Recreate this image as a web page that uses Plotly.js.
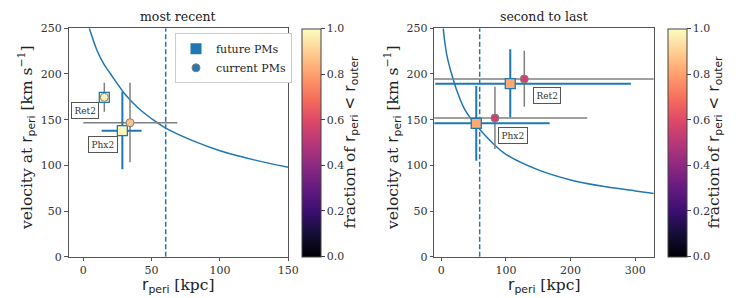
<!DOCTYPE html>
<html>
<head>
<meta charset="utf-8">
<script src="https://cdn.plot.ly/plotly-3.0.1.min.js"></script>
<style>html,body{margin:0;padding:0;background:#fff}#chart{width:743px;height:298px}</style>
</head>
<body>
<div id="chart"></div>
<script>
// ---- data ----
const panelTitles = ["most recent", "second to last"];
const satNames = ["Ret2", "Phx2"];

// escape-velocity-like curve
const curveLeftR = [4.4, 8, 10, 15, 20, 30, 40, 50, 60, 80, 100, 125, 150];
const curveLeftV = [250, 234, 226, 211, 200, 179, 163, 151, 141, 127, 116, 106, 98];
const curveRightR = [3.1, 6, 10, 16, 24, 35, 47, 60, 80, 100, 150, 200, 250, 300, 330];
const curveRightV = [250, 232, 216, 200, 182, 163, 150, 139, 124, 112, 95, 84, 77, 72, 69];

const rOuter = [60.3, 59.4];

// most recent: future PMs
const futLeftR = [15.4, 28.6];
const futLeftV = [174.5, 137.9];
const futLeftRminus = [1, 15.1];
const futLeftRplus = [1, 14.1];
const futLeftVminus = [1, 42.2];
const futLeftVplus = [1, 42.7];
const futLeftFrac = [0.99, 0.99];
// most recent: current PMs
const curLeftR = [15.4, 34.2];
const curLeftV = [174.5, 146.7];
const curLeftRminus = [1, 34.2];
const curLeftRplus = [1, 34.6];
const curLeftVminus = [15.8, 43.4];
const curLeftVplus = [16.0, 43.8];
const curLeftFrac = [0.97, 0.87];

// second to last: future PMs
const futRightR = [106.7, 54.1];
const futRightV = [189.4, 146.0];
const futRightRminus = [116, 70];
const futRightRplus = [186.6, 113.5];
const futRightVminus = [36.8, 40.9];
const futRightVplus = [37.6, 40.8];
const futRightFrac = [0.82, 0.82];
// second to last: current PMs
const curRightR = [128.4, 83.0];
const curRightV = [194.5, 151.8];
const curRightRminus = [150, 100];
const curRightRplus = [260, 142.8];
const curRightVminus = [30.3, 33.9];
const curRightVplus = [31.0, 34.2];
const curRightFrac = [0.56, 0.56];

const labelLeftR = [1.2, 14.4];
const labelLeftV = [159.5, 123.3];
const labelRightR = [163, 110.9];
const labelRightV = [176.7, 132.9];

const cbTicks = [0, 0.2, 0.4, 0.6, 0.8, 1.0];
const cbTickText = ["0.0", "0.2", "0.4", "0.6", "0.8", "1.0"];
const xTicksLeft = [0, 50, 100, 150];
const xTicksRight = [0, 100, 200, 300];
const yTicks = [0, 50, 100, 150, 200, 250];

// ---- style ----
const BLUE = "#1f77b4";
const GRAY = "#808080";
const SERIF = "DejaVu Serif";
const SANS = "DejaVu Sans";
const magma = [
  [0.0, "#000004"], [0.1, "#140e36"], [0.2, "#3b0f70"], [0.3, "#641a80"],
  [0.4, "#8c2981"], [0.5, "#b73779"], [0.6, "#de4968"], [0.7, "#f7705c"],
  [0.8, "#fe9f6d"], [0.9, "#fecf92"], [1.0, "#fcfdbf"]
];

function errTrace(xa, ya, x, y, xm, xp, ym, yp, color, th) {
  return {
    type: "scatter", mode: "markers", x: x, y: y, xaxis: xa, yaxis: ya,
    marker: {size: 1, opacity: 0}, showlegend: false, hoverinfo: "skip",
    error_x: {type: "data", symmetric: false, array: xp, arrayminus: xm, color: color, thickness: th, width: 0},
    error_y: {type: "data", symmetric: false, array: yp, arrayminus: ym, color: color, thickness: th, width: 0}
  };
}
function markTrace(xa, ya, x, y, c, ca, sym, size, lc, lw) {
  return {
    type: "scatter", mode: "markers", x: x, y: y, xaxis: xa, yaxis: ya,
    marker: {symbol: sym, size: size, color: c, coloraxis: ca, line: {color: lc, width: lw}},
    showlegend: false
  };
}

const traces = [
  {type: "scatter", mode: "lines", x: curveLeftR, y: curveLeftV, xaxis: "x", yaxis: "y",
   line: {color: BLUE, width: 1.5, shape: "spline"}, showlegend: false},
  {type: "scatter", mode: "lines", x: [rOuter[0], rOuter[0]], y: [0, 250], xaxis: "x", yaxis: "y",
   line: {color: BLUE, width: 1.5, dash: "5px,2.5px"}, showlegend: false},
  errTrace("x", "y", curLeftR, curLeftV, curLeftRminus, curLeftRplus, curLeftVminus, curLeftVplus, GRAY, 1.5),
  errTrace("x", "y", futLeftR, futLeftV, futLeftRminus, futLeftRplus, futLeftVminus, futLeftVplus, BLUE, 2),
  markTrace("x", "y", futLeftR, futLeftV, futLeftFrac, "coloraxis", "square", 10, BLUE, 1.3),
  markTrace("x", "y", curLeftR, curLeftV, curLeftFrac, "coloraxis", "circle", 8, GRAY, 1),

  {type: "scatter", mode: "lines", x: curveRightR, y: curveRightV, xaxis: "x2", yaxis: "y2",
   line: {color: BLUE, width: 1.5, shape: "spline"}, showlegend: false},
  {type: "scatter", mode: "lines", x: [rOuter[1], rOuter[1]], y: [0, 250], xaxis: "x2", yaxis: "y2",
   line: {color: BLUE, width: 1.5, dash: "5px,2.5px"}, showlegend: false},
  errTrace("x2", "y2", curRightR, curRightV, curRightRminus, curRightRplus, curRightVminus, curRightVplus, GRAY, 1.5),
  errTrace("x2", "y2", futRightR, futRightV, futRightRminus, futRightRplus, futRightVminus, futRightVplus, BLUE, 2),
  markTrace("x2", "y2", futRightR, futRightV, futRightFrac, "coloraxis2", "square", 10, BLUE, 1.3),
  markTrace("x2", "y2", curRightR, curRightV, curRightFrac, "coloraxis2", "circle", 8, GRAY, 1),

  // legend entries
  {type: "scatter", mode: "markers", x: [null], y: [null], xaxis: "x", yaxis: "y", name: "future PMs",
   marker: {symbol: "square", size: 11, color: BLUE}},
  {type: "scatter", mode: "markers", x: [null], y: [null], xaxis: "x", yaxis: "y", name: "current PMs",
   marker: {symbol: "circle", size: 8, color: BLUE, line: {color: GRAY, width: 1}}}
];

function sans(t) { return '<span style="font-family:' + SANS + '">' + t + '</span>'; }
function serif(t) { return '<span style="font-family:' + SERIF + '">' + t + '</span>'; }
const rperi = sans("r") + "<sub>" + sans("peri") + "</sub>";
const router = sans("&lt; r") + "<sub>" + sans("outer") + "</sub>";

function axisX(dom, range, ticks) {
  return {domain: dom, range: range, tickvals: ticks, ticktext: ticks.map(String),
    showline: true, mirror: true, linecolor: "#555", linewidth: 1, ticks: "outside", ticklen: 3.5,
    tickcolor: "#555", showgrid: false, zeroline: false, tickfont: {family: SERIF, size: 11, color: "#333"}};
}
function axisY(dom, anchor) {
  return {domain: dom, range: [0, 250], anchor: anchor, tickvals: yTicks, ticktext: yTicks.map(String),
    showline: true, mirror: true, linecolor: "#555", linewidth: 1, ticks: "outside", ticklen: 3.5,
    tickcolor: "#555", showgrid: false, zeroline: false, tickfont: {family: SERIF, size: 11, color: "#333"}};
}
function cbar(xp) {
  return {x: xp, xanchor: "left", xref: "paper", y: 0.5218, yanchor: "middle", yref: "paper",
    len: 228, lenmode: "pixels", thickness: 19, thicknessmode: "pixels", xpad: 0, ypad: 0,
    outlinewidth: 1, outlinecolor: "#444", ticks: "outside", ticklen: 3.5, tickcolor: "#444",
    tickvals: cbTicks, ticktext: cbTickText, tickfont: {family: SERIF, size: 11, color: "#333"},
    title: {text: ""}};
}

const YDOM = [0.1386, 0.905];
const annotations = [];
const lefts = [[0.0922, 0.3880], [0.5845, 0.8798]];
function textAnn(x, y, text, size, angle) {
  return {xref: "paper", yref: "paper", x: x, y: y, xanchor: "center", yanchor: "middle",
    textangle: angle || 0, text: text, showarrow: false, font: {family: SERIF, size: size, color: "#222"}};
}
const xLabel = rperi + serif(" [kpc]");
const yLabel = serif("velocity at ") + rperi + serif(" [km s") + "<sup>" + serif("−1") + "</sup>" + serif("]");
const cLabel = serif("fraction of ") + rperi + " " + router;
[0, 1].forEach(i => {
  const cx = (lefts[i][0] + lefts[i][1]) / 2;
  annotations.push(textAnn(cx, 1 - 16 / 298, panelTitles[i], 12.5));
  annotations.push(textAnn(cx, 1 - 286 / 298, xLabel, 15.5));
});
annotations.push(textAnn(26 / 743, 1 - 138 / 298, yLabel, 15.5, -90));
annotations.push(textAnn(392 / 743, 1 - 138 / 298, yLabel, 15.5, -90));
annotations.push(textAnn(350.5 / 743, 1 - 142 / 298, cLabel, 15.5, -90));
annotations.push(textAnn(714.5 / 743, 1 - 142 / 298, cLabel, 15.5, -90));

function labelAnn(xr, yr, x, y, t) {
  return {xref: xr, yref: yr, x: x, y: y, xanchor: "center", yanchor: "middle", text: t, showarrow: false, bgcolor: "#fff",
    bordercolor: "#555", borderwidth: 1, borderpad: 2.5, font: {family: SERIF, size: 9, color: "#333"}};
}
satNames.forEach((n, i) => {
  annotations.push(labelAnn("x", "y", labelLeftR[i], labelLeftV[i], n));
  annotations.push(labelAnn("x2", "y2", labelRightR[i], labelRightV[i], n));
});

const layout = {
  width: 743, height: 298, margin: {l: 0, r: 0, t: 0, b: 0},
  paper_bgcolor: "#fff", plot_bgcolor: "#fff",
  font: {family: SERIF},
  xaxis: Object.assign(axisX(lefts[0], [-10.8, 150], xTicksLeft), {anchor: "y"}),
  yaxis: axisY(YDOM, "x"),
  xaxis2: Object.assign(axisX(lefts[1], [-10.8, 328.5], xTicksRight), {anchor: "y2"}),
  yaxis2: axisY(YDOM, "x2"),
  coloraxis: {colorscale: magma, cmin: 0, cmax: 1, colorbar: cbar(302 / 743)},
  coloraxis2: {colorscale: magma, cmin: 0, cmax: 1, colorbar: cbar(667.7 / 743)},
  showlegend: true,
  legend: {x: 175 / 743, y: 1 - 33.3 / 298, xanchor: "left", yanchor: "top", bgcolor: "#fff",
    bordercolor: "#ccc", borderwidth: 1, font: {family: SERIF, size: 11, color: "#222"},
    tracegroupgap: 0, itemwidth: 30},
  annotations: annotations
};

Plotly.newPlot("chart", traces, layout, {staticPlot: true, displayModeBar: false});
</script>
</body>
</html>
